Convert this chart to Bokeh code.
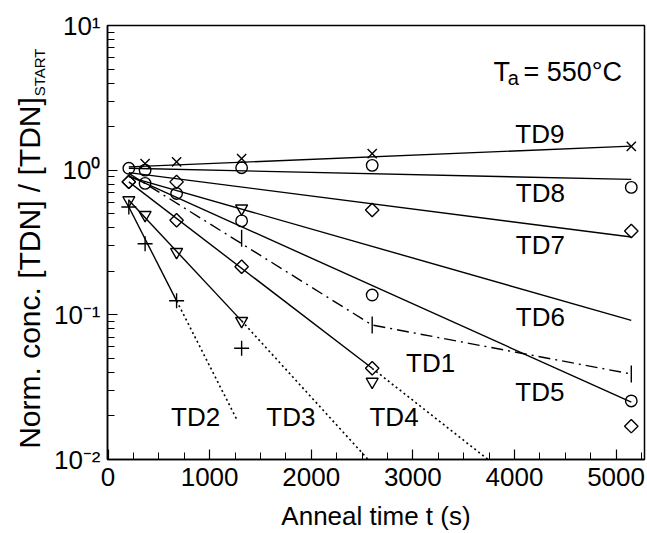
from bokeh.plotting import figure
from bokeh.layouts import row
from bokeh.models import (Range1d, SingleIntervalTicker, LogTicker,
                          CustomJSTickFormatter, Label, ColumnDataSource)
from bokeh.core.properties import value
from bokeh.embed import file_html
from bokeh.resources import INLINE

# ---- measured concentrations (normalised to the starting value) ----
td9_t = [365, 675, 1315, 2600, 5150]
td9_v = [1.11, 1.14, 1.20, 1.30, 1.46]

td8_t = [205, 365, 1315, 2600, 5150]
td8_v = [1.03, 1.00, 1.04, 1.08, 0.76]

td7_t = [205, 675, 2600, 5150]
td7_v = [0.83, 0.83, 0.53, 0.38]

td6_t = [1315]
td6_v = [0.544]

td5_t = [365, 675, 1315, 2600, 5150]
td5_v = [0.81, 0.69, 0.446, 0.137, 0.0254]

td1_t = [1315, 2600, 5150]
td1_v = [0.339, 0.085, 0.039]

td4_t = [205, 675, 1315, 2600, 5150]
td4_v = [0.83, 0.45, 0.215, 0.0427, 0.017]

td3_t = [205, 365, 675, 1315, 2600]
td3_v = [0.62, 0.49, 0.272, 0.0908, 0.0345]

td2_t = [205, 365, 675, 1315]
td2_v = [0.556, 0.31, 0.125, 0.0588]

# ---- exponential decay fits (solid) and their extrapolations (dotted) ----
td9_fit_t, td9_fit_v = [205, 5150], [1.054, 1.465]
td8_fit_t, td8_fit_v = [205, 5150], [1.03, 0.863]
td7_fit_t, td7_fit_v = [205, 5150], [0.962, 0.345]
td6_fit_t, td6_fit_v = [205, 5150], [0.899, 0.0915]
td5_fit_t, td5_fit_v = [205, 5150], [0.912, 0.0249]
td1_fit_t, td1_fit_v = [205, 2600, 5150], [0.95, 0.085, 0.039]
td4_fit_t, td4_fit_v = [205, 2600], [0.83, 0.0427]
td4_ext_t, td4_ext_v = [2600, 3740], [0.0427, 0.01]
td3_fit_t, td3_fit_v = [205, 1315], [0.62, 0.0908]
td3_ext_t, td3_ext_v = [1315, 2560], [0.0908, 0.01]
td2_fit_t, td2_fit_v = [205, 675], [0.556, 0.125]
td2_ext_t, td2_ext_v = [675, 1266], [0.125, 0.019]

# ---- curve names and where they are written ----
name_text = ["TD9", "TD8", "TD7", "TD6", "TD5", "TD1", "TD4", "TD3", "TD2"]
name_t = [4250, 4255, 4255, 4255, 4250, 3175, 2815, 1800, 862]
name_v = [1.79, 0.699, 0.303, 0.0966, 0.0295, 0.0464, 0.0197, 0.0197, 0.0197]

y_tick_labels = {-2: "10\u207b\u00b2", -1: "10\u207b\u00b9", 0: "10\u2070", 1: "10\u00b9"}

FONT = "Liberation Sans"
INK = "black"
W, H = 647, 533
TITLE_W = 48

# ---------------- main chart ----------------
p = figure(width=W - TITLE_W, height=H,
           x_range=Range1d(-5, 5280), y_range=Range1d(0.01, 10),
           y_axis_type="log", output_backend="svg", toolbar_location=None,
           min_border_left=107 - TITLE_W, min_border_right=3,
           min_border_top=25, min_border_bottom=73)
p.grid.visible = False
p.background_fill_color = "white"
p.border_fill_color = "white"
p.outline_line_color = INK
p.outline_line_width = 1.5

# axes: ticks point into the frame
for ax in (p.xaxis[0], p.yaxis[0]):
    ax.axis_line_width = 1.5
    ax.axis_line_color = INK
    ax.major_tick_in = 10
    ax.major_tick_out = 0
    ax.minor_tick_in = 7
    ax.minor_tick_out = 0
    ax.major_tick_line_width = 1.2
    ax.minor_tick_line_width = 1.0
    ax.major_tick_line_color = INK
    ax.minor_tick_line_color = INK
    ax.major_label_text_font = FONT
    ax.major_label_text_font_size = "26px"
    ax.major_label_text_color = INK

p.xaxis.ticker = SingleIntervalTicker(interval=1000, num_minor_ticks=4)
p.xaxis.major_label_standoff = 8
p.xaxis.axis_label = "Anneal time t (s)"
p.xaxis.axis_label_text_font = FONT
p.xaxis.axis_label_text_font_size = "26px"
p.xaxis.axis_label_text_font_style = "normal"
p.xaxis.axis_label_text_color = INK
p.xaxis.axis_label_standoff = 12

p.yaxis.ticker = LogTicker(num_minor_ticks=10)
p.yaxis.major_label_standoff = 7
p.yaxis.formatter = CustomJSTickFormatter(
    args=dict(labels={str(k): v for k, v in y_tick_labels.items()}),
    code="const e = Math.round(Math.log10(tick)); return labels[String(e)] ?? String(tick);")

# fitted lines
for ft, fv in [(td9_fit_t, td9_fit_v), (td8_fit_t, td8_fit_v), (td7_fit_t, td7_fit_v),
               (td6_fit_t, td6_fit_v), (td5_fit_t, td5_fit_v), (td4_fit_t, td4_fit_v),
               (td3_fit_t, td3_fit_v), (td2_fit_t, td2_fit_v)]:
    p.line(ft, fv, line_color=INK, line_width=1.4)
p.line(td1_fit_t, td1_fit_v, line_color=INK, line_width=1.4, line_dash="12 5 2 5")
for ft, fv in [(td4_ext_t, td4_ext_v), (td3_ext_t, td3_ext_v), (td2_ext_t, td2_ext_v)]:
    p.line(ft, fv, line_color=INK, line_width=1.6, line_dash="2 3")

# measured points
mk = dict(line_color=INK, fill_color="white", fill_alpha=0.0, line_width=1.4)
p.scatter(td9_t, td9_v, marker="x", size=13, **mk)
p.scatter(td8_t, td8_v, marker="circle", size=11.5, **mk)
p.scatter(td7_t, td7_v, marker="square", angle=0.785398, size=9.5, **mk)
p.scatter(td6_t, td6_v, marker="inverted_triangle", size=12, **mk)
p.scatter(td5_t, td5_v, marker="circle", size=11.5, **mk)
p.scatter(td1_t, td1_v, marker="dash", angle=1.570796, size=17, **mk)
p.scatter(td4_t, td4_v, marker="square", angle=0.785398, size=9.5, **mk)
p.scatter(td3_t, td3_v, marker="inverted_triangle", size=12, **mk)
p.scatter(td2_t, td2_v, marker="cross", size=15, **mk)

# curve names
names = ColumnDataSource(dict(t=name_t, v=name_v, text=name_text))
p.text(x="t", y="v", text="text", source=names, text_font=value(FONT),
       text_font_size="26px", text_align="center", text_baseline="middle",
       text_color=INK)

# annealing temperature
lab = dict(text_font=FONT, text_color=INK, text_baseline="middle", text_align="left")
p.add_layout(Label(x=3795, y=4.755, text="T", text_font_size="27px", **lab))
p.add_layout(Label(x=3935, y=4.32, text="a", text_font_size="20px", **lab))
p.add_layout(Label(x=4088, y=4.755, text="= 550\u00b0C", text_font_size="27px", **lab))

# ---------------- vertical axis title (with subscript) ----------------
t = figure(width=TITLE_W, height=H, x_range=Range1d(0, TITLE_W), y_range=Range1d(H, 0),
           output_backend="svg", toolbar_location=None,
           x_axis_location=None, y_axis_location=None,
           min_border_left=0, min_border_right=0, min_border_top=0, min_border_bottom=0)
t.grid.visible = False
t.outline_line_color = None
t.background_fill_color = "white"
t.border_fill_color = "white"
t.text(x=[29], y=[88], text=["Norm. conc. [TDN] / [TDN]"], angle=1.570796,
       text_font=value(FONT), text_font_size="30px", text_color=INK,
       text_align="right", text_baseline="middle")
t.text(x=[38.5], y=[87], text=["START"], angle=1.570796,
       text_font=value(FONT), text_font_size="15px", text_color=INK,
       text_align="left", text_baseline="middle")

layout = row(t, p, spacing=0)
open("out.html", "w").write(file_html(layout, INLINE))
